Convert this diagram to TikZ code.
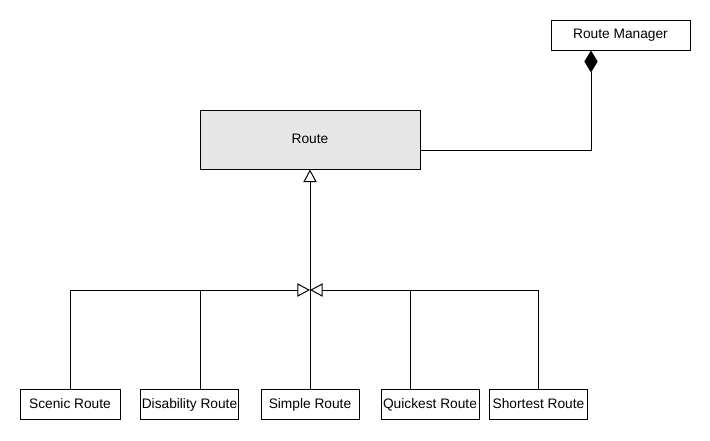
\documentclass[tikz,border=0pt]{standalone}
\usepackage{fontspec}
\setmainfont{Liberation Sans}
\usepackage{xcolor}
\usepackage{tikz}
\usetikzlibrary{arrows.meta,calc,positioning}

\definecolor{klassgrau}{HTML}{E6E6E6}

\tikzset{
    klasse/.style={rectangle, draw, line width=0.75pt, inner sep=0pt, minimum width=74pt, minimum height=22.5pt, text height=7.6pt, text depth=2.2pt, font=\fontsize{10.3}{12}\selectfont},
    erbt/.style={-{Triangle[open, length=9.5pt, width=10pt]}, line width=0.75pt},
    linie/.style={line width=0.75pt}
}

\begin{document}
\begin{tikzpicture}[x=0.75pt, y=-0.75pt]
        % Umgebung
        \useasboundingbox[fill=white] (0,0) rectangle (710,440);
        % Rechteck - Route
        \node at (310,139.5) [klasse, fill=klassgrau, minimum width=165pt, minimum height=44.25pt] (route) {Route};
        % Rechteck - Route Manager
        \node at (620.5,35) [klasse, minimum width=104.25pt] (manager) {Route Manager};
        % Rechtecke - Unterklassen
        \node at (70,404.5) [klasse, minimum width=75pt] (scenic) {Scenic Route};
        \node at (189.5,404.5) [klasse] (disability) {Disability Route};
        \node at (310,404.5) [klasse, minimum width=73.5pt] (simple) {Simple Route};
        \node at (430,404.5) [klasse, minimum width=73.5pt] (quickest) {Quickest Route};
        \node at (538.5,404.5) [klasse, minimum width=73pt] (shortest) {Shortest Route};
        % Knoten der Vererbung
        \coordinate (knoten) at (310,290);
        \coordinate (disab) at ($(disability.north)+(10.5,0)$);
        \coordinate (quick) at ($(quickest.north)+(-20,0)$);
        % Pfeile zum Knoten
        \draw[erbt] (scenic.north) |- (knoten);
        \draw[erbt] (shortest.north) |- (knoten);
        \draw[linie] (disab) -- (disab |- knoten);
        \draw[linie] (quick) -- (quick |- knoten);
        % Pfeil zu Route
        \draw[erbt] (simple.north) -- (route.south);
        % Komposition Route Manager
        \coordinate (rm) at ($(manager.south)+(-29.5,0)$);
        \draw[-{Diamond[length=16.5pt, width=10pt]}, line width=0.75pt] ($(route.east)+(0,10.5)$) -| (rm);
    \end{tikzpicture}
\end{document}
